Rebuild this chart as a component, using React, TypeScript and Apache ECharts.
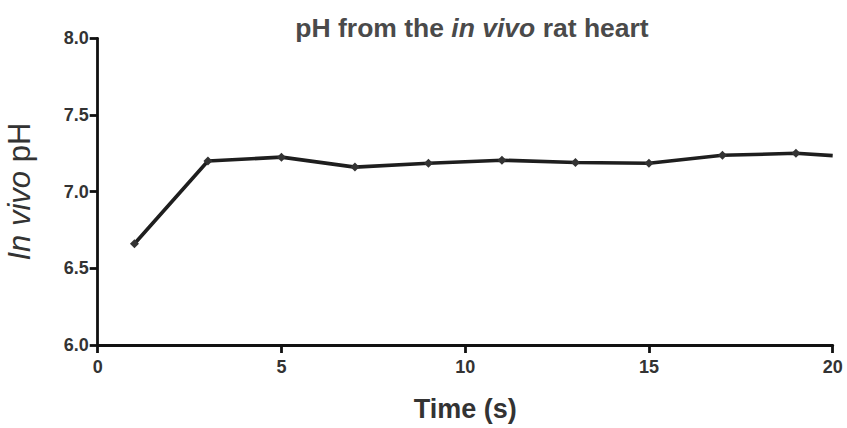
import React, { useEffect, useRef } from "react";
import * as echarts from "echarts";

const timeS = [1, 3, 5, 7, 9, 11, 13, 15, 17, 19, 20];
const phValues = [6.66, 7.2, 7.225, 7.16, 7.185, 7.205, 7.19, 7.185, 7.237, 7.25, 7.235];
const xTicks = [0, 5, 10, 15, 20];
const yTicks = [6.0, 6.5, 7.0, 7.5, 8.0];

export default function App() {
  const ref = useRef<HTMLDivElement>(null);
  useEffect(() => {
    if (!ref.current) return;
    const chart = echarts.init(ref.current, undefined, { renderer: "svg" });
    const font = "'Liberation Sans', Arial, sans-serif";
    chart.setOption({
      animation: false,
      backgroundColor: "#ffffff",
      title: {
        text: "{n|pH from the }{i|in vivo}{n| rat heart}",
        left: 467,
        textAlign: "center",
        top: 9,
        textStyle: {
          rich: {
            n: { fontFamily: font, fontSize: 26.5, fontWeight: "bold", color: "#4a4a4a" },
            i: { fontFamily: font, fontSize: 26.5, fontWeight: "bold", fontStyle: "italic", color: "#4a4a4a" },
          },
        },
      },
      grid: { left: 97.7, right: 14.3, top: 38.3, bottom: 83, containLabel: false, outerBoundsMode: "none" },
      xAxis: {
        type: "value",
        min: xTicks[0],
        max: xTicks[xTicks.length - 1],
        interval: 5,
        name: "Time (s)",
        nameLocation: "middle",
        nameGap: 50,
        nameTextStyle: { fontFamily: font, fontSize: 27, fontWeight: "bold", color: "#333" },
        axisLine: { show: true, lineStyle: { color: "#111", width: 2.8 } },
        axisTick: { show: true, length: 8, lineStyle: { color: "#111", width: 2.8 } },
        axisLabel: { fontFamily: font, fontSize: 18, fontWeight: "bold", color: "#333", margin: 13 },
        splitLine: { show: false },
      },
      yAxis: {
        type: "value",
        min: yTicks[0],
        max: yTicks[yTicks.length - 1],
        interval: 0.5,
        name: "{i|In vivo}{n| pH}",
        nameLocation: "middle",
        nameGap: 63,
        nameTextStyle: {
          rich: {
            i: { fontFamily: font, fontSize: 31, fontStyle: "italic", color: "#333" },
            n: { fontFamily: font, fontSize: 31, color: "#333" },
          },
        },
        axisLine: { show: true, lineStyle: { color: "#111", width: 2.8 } },
        axisTick: { show: true, length: 8, lineStyle: { color: "#111", width: 2.8 } },
        axisLabel: {
          fontFamily: font,
          fontSize: 18,
          fontWeight: "bold",
          color: "#333",
          margin: 9,
          formatter: (v: number) => v.toFixed(1),
        },
        splitLine: { show: false },
      },
      series: [
        {
          type: "line",
          data: timeS.map((t, i) => [t, phValues[i]]),
          symbol: "diamond",
          symbolSize: (_v: any, p: any) => (p.dataIndex === timeS.length - 1 ? 0 : 9),
          lineStyle: { color: "#1e1e1e", width: 3.6 },
          itemStyle: { color: "#333" },
        },
      ],
    });
    return () => chart.dispose();
  }, []);
  return <div ref={ref} style={{ width: 847, height: 428, position: "absolute", left: 0, top: 0 }} />;
}
